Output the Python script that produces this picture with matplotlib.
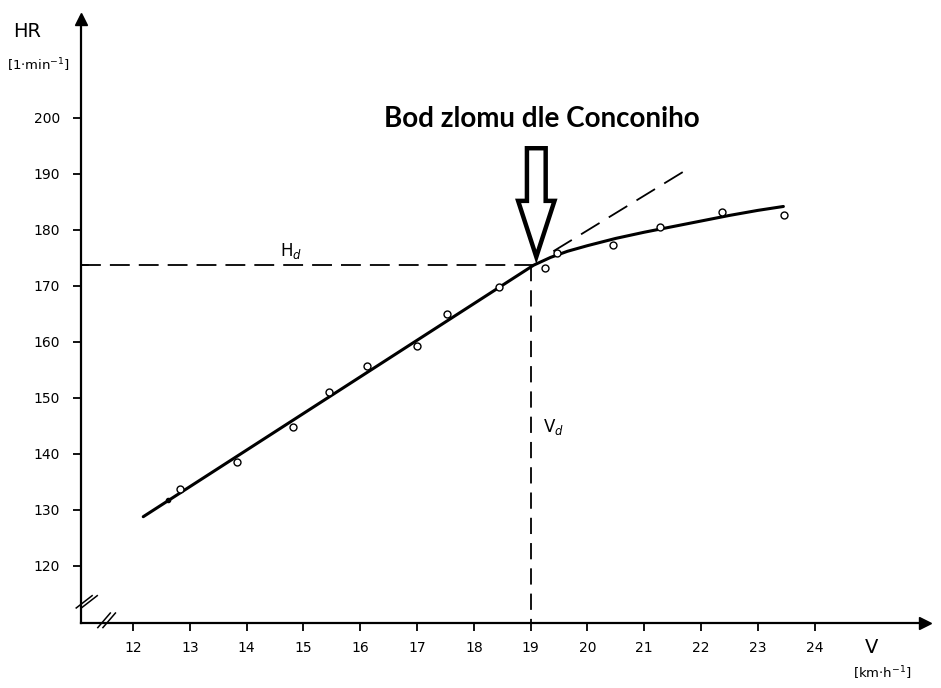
import matplotlib.pyplot as plt
import numpy as np

# measured points (speed km/h, heart rate 1/min)
speed = [12.83, 13.83, 14.82, 15.45, 16.12, 17.0, 17.53, 18.44, 19.25, 19.46, 20.45, 21.28, 22.37, 23.46]
hr = [133.8, 138.6, 144.8, 151.1, 155.7, 159.3, 165.0, 169.8, 173.2, 175.9, 177.3, 180.5, 183.2, 182.7]

# hand-drawn fitted curve
curve_v = [12.18, 19.05, 19.35, 19.65, 20.0, 20.5, 21.0, 21.5, 22.0, 22.5, 23.0, 23.45]
curve_hr = [128.8, 173.7, 175.1, 176.2, 177.2, 178.5, 179.6, 180.6, 181.6, 182.6, 183.5, 184.2]

# tangent (extension of the linear part)
tang_v = [19.4, 21.72]
tang_hr = [176.2, 190.6]

# deflection point
v_d = 19.0
hr_d = 173.8

xticks = list(range(12, 25))
yticks = list(range(120, 201, 10))

fig = plt.figure(figsize=(9.41, 6.88), dpi=100)
ax = fig.add_axes([0, 0, 1, 1])
ax.set_xlim(9.658, 26.225)
ax.set_ylim(98.21, 221.07)

x0 = 11.085   # where the V axis is
y0 = 109.82   # where the HR axis is

for s in ['top', 'right']:
    ax.spines[s].set_visible(False)
ax.spines['left'].set_position(('data', x0))
ax.spines['bottom'].set_position(('data', y0))
ax.spines['left'].set_bounds(y0, 218)
ax.spines['bottom'].set_bounds(x0, 25.9)
ax.spines['left'].set_linewidth(1.6)
ax.spines['bottom'].set_linewidth(1.6)
ax.plot(x0, 217.6, marker='^', ms=9, color='k', clip_on=False)
ax.plot(25.95, y0, marker='>', ms=9, color='k', clip_on=False)

ax.set_xticks(xticks)
ax.set_yticks(yticks)
ax.tick_params(axis='both', direction='out', length=6, width=1.3, labelsize=10)
ax.tick_params(axis='y', pad=9)
ax.tick_params(axis='x', pad=7)

# axis breaks
for d in [0, 0.09]:
    ax.plot([11.0 + d, 11.28 + d], [112.5, 114.7], color='k', lw=1.1)
    ax.plot([11.38 + d, 11.6 + d], [109.0, 111.6], color='k', lw=1.1)

# dashed guides
ax.plot([x0, v_d + 0.05], [hr_d, hr_d], color='k', lw=1.3, linestyle=(0, (11, 5)))
ax.plot([v_d, v_d], [hr_d, y0], color='k', lw=1.3, linestyle=(0, (9, 5)))
ax.plot(tang_v, tang_hr, color='k', lw=1.3, linestyle=(0, (12, 6)))

# curve and points
ax.plot(curve_v, curve_hr, color='k', lw=2.2, solid_capstyle='round')
ax.plot(speed, hr, 'o', mfc='white', mec='k', ms=5, mew=1.0)
ax.plot(12.62, 131.8, marker='o', color='k', ms=3)

# small tick mark of Hd on the axis
ax.plot([x0, x0 + 0.12], [hr_d, hr_d], color='k', lw=1.1)

# hollow arrow pointing at the break point
arr = plt.matplotlib.patches.FancyArrow(v_d + 0.1, 194.6, 0, -19.4, width=0.33, head_width=0.64,
                                        head_length=10.0, length_includes_head=True,
                                        fc='white', ec='black', lw=3.2)
ax.add_patch(arr)

ax.text(19.19, 199.8, 'Bod zlomu dle Conconiho', ha='center', va='center',
        fontsize=20, fontweight='bold', family='Lato')

ax.text(14.78, 176.2, r'H$_d$', fontsize=12, ha='center', va='center')
ax.text(19.41, 144.8, r'V$_d$', fontsize=12, ha='center', va='center')

# axis titles
ax.text(10.13, 215.5, 'HR', fontsize=14, ha='center', va='center')
ax.text(10.33, 209.4, r'[1$\cdot$min$^{-1}$]', fontsize=9.5, ha='center', va='center')
ax.text(25.01, 105.4, 'V', fontsize=14, ha='center', va='center')
ax.text(25.2, 100.9, r'[km$\cdot$h$^{-1}$]', fontsize=9.5, ha='center', va='center')

fig.savefig('out.png', dpi=100)
